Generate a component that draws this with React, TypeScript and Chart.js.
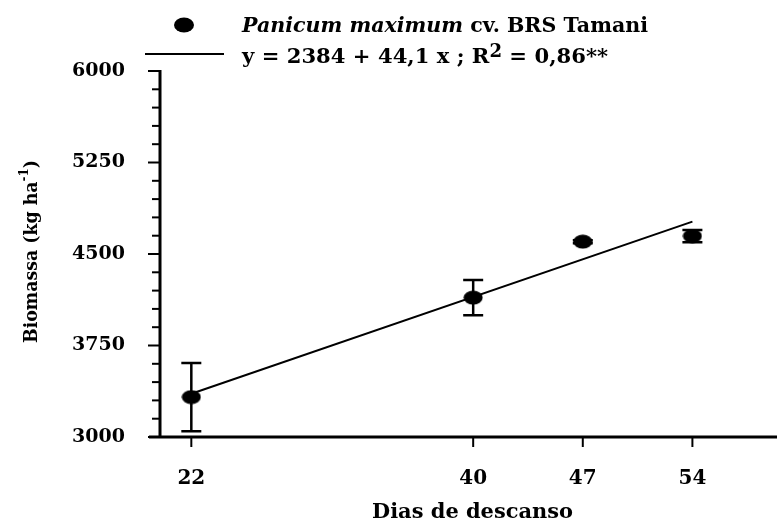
import React, { useEffect, useRef } from 'react';
import { Chart, registerables } from 'chart.js';

Chart.register(...registerables);

// ---- data ----
const days = [22, 40, 47, 54];
const biomass = [3327, 4142, 4601, 4647];
const errors = [280, 145, 12, 50];
const fitDays = [22, 54];
const fitBiomass = [3354, 4765];
const xTickValues = [22, 40, 47, 54];
const yMin = 3000;
const yMax = 6000;
const yMinorStep = 150;
const yMajorStep = 750;
const xMin = 20;
const xMax = 58.7;
const legendSpecies = 'Panicum maximum';
const legendCultivar = ' cv. BRS Tamani';
const legendEquationA = 'y = 2384 + 44,1 x ; R';
const legendEquationSup = '2';
const legendEquationB = ' = 0,86**';
const xTitle = 'Dias de descanso';
const yTitleA = 'Biomassa (kg ha';
const yTitleSup = '-1';
const yTitleB = ')';

const FONT = '"DejaVu Serif", "Liberation Serif", serif';

type Part = { text: string; font: string; dy?: number };

function drawParts(ctx: CanvasRenderingContext2D, parts: Part[], x: number, y: number, target: number) {
  let total = 0;
  for (const p of parts) {
    ctx.font = p.font;
    total += ctx.measureText(p.text).width;
  }
  const sx = target / total;
  ctx.save();
  ctx.translate(x, y);
  ctx.scale(sx, 1);
  let cx = 0;
  for (const p of parts) {
    ctx.font = p.font;
    ctx.fillText(p.text, cx, p.dy || 0);
    cx += ctx.measureText(p.text).width;
  }
  ctx.restore();
}

function makeEllipse(w: number, h: number) {
  const c = document.createElement('canvas');
  c.width = w;
  c.height = h;
  const g = c.getContext('2d')!;
  g.fillStyle = '#000';
  g.beginPath();
  g.ellipse(w / 2, h / 2, w / 2 - 0.5, h / 2 - 0.5, 0, 0, Math.PI * 2);
  g.fill();
  return c;
}

const decorPlugin = {
  id: 'decor',
  beforeDatasetsDraw(chart: any) {
    const ctx: CanvasRenderingContext2D = chart.ctx;
    const xs = chart.scales.x;
    const ys = chart.scales.y;
    const area = chart.chartArea;
    ctx.save();
    ctx.strokeStyle = '#000';
    ctx.lineCap = 'butt';
    // axes lines
    ctx.lineWidth = 3;
    ctx.beginPath();
    ctx.moveTo(area.left, ys.getPixelForValue(yMax) - 1);
    ctx.lineTo(area.left, area.bottom);
    ctx.stroke();
    ctx.beginPath();
    ctx.moveTo(area.left - 11, area.bottom);
    ctx.lineTo(chart.width, area.bottom);
    ctx.stroke();
    // y ticks
    ctx.lineWidth = 2;
    for (let v = yMin; v <= yMax; v += yMinorStep) {
      const py = ys.getPixelForValue(v);
      const major = v % yMajorStep === 0;
      ctx.beginPath();
      ctx.moveTo(area.left - (major ? 12 : 8), py);
      ctx.lineTo(area.left, py);
      ctx.stroke();
    }
    // x ticks
    for (const v of xTickValues) {
      const px = xs.getPixelForValue(v);
      ctx.beginPath();
      ctx.moveTo(px, area.bottom);
      ctx.lineTo(px, area.bottom + 10);
      ctx.stroke();
    }
    // error bars
    ctx.lineWidth = 2.5;
    for (let i = 0; i < days.length; i++) {
      const px = xs.getPixelForValue(days[i]);
      const top = ys.getPixelForValue(biomass[i] + errors[i]);
      const bot = ys.getPixelForValue(biomass[i] - errors[i]);
      ctx.beginPath();
      ctx.moveTo(px, top);
      ctx.lineTo(px, bot);
      ctx.moveTo(px - 10, top);
      ctx.lineTo(px + 10, top);
      ctx.moveTo(px - 10, bot);
      ctx.lineTo(px + 10, bot);
      ctx.stroke();
    }
    ctx.restore();
  },
  afterDraw(chart: any) {
    const ctx: CanvasRenderingContext2D = chart.ctx;
    ctx.save();
    ctx.fillStyle = '#000';
    ctx.strokeStyle = '#000';
    ctx.textBaseline = 'alphabetic';
    ctx.textAlign = 'left';
    // legend marker
    ctx.beginPath();
    ctx.ellipse(184, 25, 10, 7.5, 0, 0, Math.PI * 2);
    ctx.fill();
    // legend line
    ctx.lineWidth = 2;
    ctx.beginPath();
    ctx.moveTo(145, 54);
    ctx.lineTo(224, 54);
    ctx.stroke();
    // legend texts
    drawParts(ctx, [
      { text: legendSpecies, font: `italic bold 21px ${FONT}` },
      { text: legendCultivar, font: `bold 21px ${FONT}` },
    ], 242, 32, 406);
    drawParts(ctx, [
      { text: legendEquationA, font: `bold 21px ${FONT}` },
      { text: legendEquationSup, font: `bold 18px ${FONT}`, dy: -6 },
      { text: legendEquationB, font: `bold 21px ${FONT}` },
    ], 242, 63, 366);
    // x title
    drawParts(ctx, [{ text: xTitle, font: `bold 20px ${FONT}` }], 372, 518, 201);
    // y title
    ctx.save();
    ctx.translate(37, 343);
    ctx.rotate(-Math.PI / 2);
    drawParts(ctx, [
      { text: yTitleA, font: `bold 19px ${FONT}` },
      { text: yTitleSup, font: `bold 13px ${FONT}`, dy: -9 },
      { text: yTitleB, font: `bold 19px ${FONT}` },
    ], 0, 0, 183);
    ctx.restore();
    ctx.restore();
  },
};

export default function App() {
  const ref = useRef<HTMLCanvasElement>(null);
  useEffect(() => {
    if (!ref.current) return;
    const marker = makeEllipse(20, 15);
    const chart = new Chart(ref.current, {
      type: 'scatter',
      data: {
        datasets: [
          {
            type: 'line',
            data: fitDays.map((d, i) => ({ x: d, y: fitBiomass[i] })),
            borderColor: '#000',
            borderWidth: 2,
            pointRadius: 0,
            fill: false,
          } as any,
          {
            data: days.map((d, i) => ({ x: d, y: biomass[i] })),
            pointStyle: marker as any,
            pointRadius: 10,
            backgroundColor: '#000',
            borderColor: '#000',
          },
        ],
      },
      options: {
        responsive: false,
        animation: false,
        layout: { padding: { top: 71, left: 0, right: 0, bottom: 0 } },
        plugins: { legend: { display: false }, tooltip: { enabled: false } },
        scales: {
          x: {
            type: 'linear',
            min: xMin,
            max: xMax,
            grid: { display: false },
            border: { display: false },
            afterBuildTicks: (s: any) => {
              s.ticks = xTickValues.map((v) => ({ value: v }));
            },
            afterFit: (s: any) => {
              s.height = 86;
            },
            ticks: {
              autoSkip: false,
              maxRotation: 0,
              padding: 22,
              color: '#000',
              font: { family: FONT, size: 20, weight: 'bold' },
            },
          },
          y: {
            min: yMin,
            max: yMax,
            grid: { display: false },
            border: { display: false },
            afterFit: (s: any) => {
              s.width = 160;
            },
            ticks: {
              stepSize: yMinorStep,
              autoSkip: false,
              padding: 27,
              color: '#000',
              font: { family: FONT, size: 19, weight: 'bold' },
              callback: (v: any) => (Number(v) % yMajorStep === 0 ? String(v) : ''),
            },
          },
        },
      },
      plugins: [decorPlugin],
    });
    return () => chart.destroy();
  }, []);
  return (
    <div style={{ position: 'absolute', left: 0, top: 0, width: 777, height: 523, background: '#fff' }}>
      <canvas ref={ref} width={777} height={523} />
    </div>
  );
}
